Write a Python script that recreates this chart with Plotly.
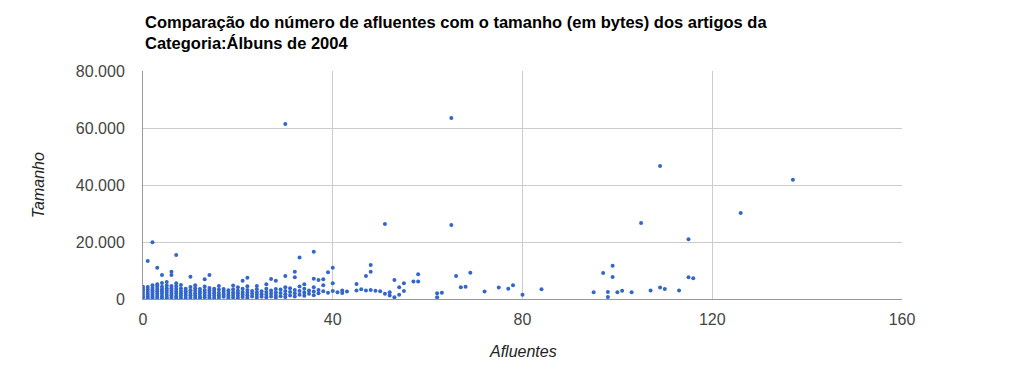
import plotly.graph_objects as go

# (afluentes, tamanho), grouped by afluentes value
afluentes_0_10 = [0]*6 + [1]*7 + [2]*8 + [3]*8 + [4]*8 + [5]*8 + [6]*8 + [7]*8 + [8]*6 + [9]*5 + [10]*6
tamanho_0_10 = [
    500, 1200, 2100, 2900, 3600, 4300,
    300, 900, 1700, 2500, 3300, 4200, 13300,
    200, 800, 1500, 2300, 3100, 3900, 4800, 19900,
    400, 1100, 1900, 2700, 3500, 4400, 5200, 11000,
    300, 1000, 1800, 2600, 3400, 4300, 5600, 8400,
    200, 700, 1400, 2200, 3000, 3800, 4700, 6000,
    500, 1300, 2100, 2900, 3700, 4600, 8400, 9600,
    300, 1000, 1800, 2600, 3500, 4500, 5500, 15400,
    400, 1200, 2000, 2800, 3700, 4900,
    300, 1100, 1900, 2700, 3600,
    500, 1300, 2200, 3100, 4200, 7800,
]

afluentes_11_20 = [11]*6 + [12]*5 + [13]*6 + [14]*6 + [15]*5 + [16]*5 + [17]*4 + [18]*4 + [19]*5 + [20]*5
tamanho_11_20 = [
    400, 1200, 2000, 2900, 3800, 4800,
    300, 1000, 1800, 2600, 3500,
    600, 1400, 2300, 3200, 4400, 6900,
    400, 1200, 2100, 3000, 3900, 8400,
    300, 1100, 2000, 2800, 3600,
    500, 1300, 2200, 3300, 4600,
    800, 1700, 2600, 3500,
    400, 1200, 2100, 3100,
    600, 1500, 2400, 3400, 4700,
    300, 1100, 2000, 2900, 4100,
]

afluentes_21_40 = ([21]*5 + [22]*6 + [23]*3 + [24]*5 + [25]*3 + [26]*5 + [27]*4 + [28]*5 + [29]*3
                   + [30]*6 + [31]*3 + [32]*5 + [33]*4 + [34]*4 + [35]*2 + [36]*5 + [37]*3 + [38]*3
                   + [39]*2 + [40]*3)
tamanho_21_40 = [
    700, 1600, 2500, 3600, 6400,
    400, 1300, 2200, 3200, 4500, 7500,
    900, 1800, 2800,
    500, 1400, 2300, 3400, 4600,
    800, 1700, 2700,
    600, 1500, 2500, 3600, 5200,
    900, 1900, 3000, 7000,
    500, 1400, 2400, 3500, 6400,
    1000, 2100, 3300,
    700, 1700, 2800, 4100, 8100, 61400,
    1200, 2500, 3800,
    900, 2000, 3200, 7600, 9600,
    1500, 2800, 4400, 14600,
    1100, 2300, 3600, 5200,
    1800, 3000,
    1300, 2600, 4100, 7100, 16600,
    2000, 3200, 6700,
    2700, 4800, 6900,
    2200, 9400,
    2800, 5500, 11000,
]

afluentes_41_plus = [41, 42, 42, 43, 45, 45, 46, 47, 47, 48, 48, 48, 49, 50, 51, 51, 52, 52,
                     53, 53, 54, 54, 55, 55, 57, 58, 58, 62, 62, 63, 65, 65, 66, 67, 68, 69,
                     72, 75, 77, 78, 80, 84, 95, 97, 98, 98, 99, 99, 100, 101, 103, 105, 107,
                     109, 109, 110, 113, 115, 115, 116, 126, 137]
tamanho_41_plus = [2400, 2100, 3000, 2600, 3000, 5300, 3400, 3000, 8100, 3200, 9600, 11900,
                   2900, 2700, 1800, 26300, 1200, 2400, 600, 6700, 4100, 1500, 5500, 2800,
                   6100, 6100, 8700, 600, 2000, 2200, 26000, 63500, 8100, 4100, 4300, 9200,
                   2600, 4000, 3600, 4800, 1500, 3400, 2400, 9100, 2500, 700, 11700, 7700,
                   2400, 2900, 2400, 26700, 3000, 4000, 46700, 3500, 3000, 21000, 7600, 7300,
                   30200, 41800]

afluentes = afluentes_0_10 + afluentes_11_20 + afluentes_21_40 + afluentes_41_plus
tamanho = tamanho_0_10 + tamanho_11_20 + tamanho_21_40 + tamanho_41_plus

x_ticks = [0, 40, 80, 120, 160]
y_ticks = [0, 20000, 40000, 60000, 80000]

title_text = ("Comparação do número de afluentes com o tamanho (em bytes) dos artigos da<br>"
              "Categoria:Álbuns de 2004")

fig = go.Figure()
fig.add_trace(go.Scatter(
    x=afluentes, y=tamanho, mode="markers",
    marker=dict(color="#3366cc", size=4, line=dict(width=0)),
    hoverinfo="x+y",
))

FONT = "Liberation Sans, Arial, sans-serif"

fig.update_layout(
    width=1024, height=369,
    margin=dict(l=143, r=122, t=71, b=70),
    paper_bgcolor="white", plot_bgcolor="white",
    separators=",.",
    showlegend=False,
    font=dict(family=FONT, size=16, color="#444444"),
    annotations=[
        dict(text=title_text, xref="paper", yref="paper", x=0, y=1.262,
             xanchor="left", yanchor="top", showarrow=False, align="left",
             font=dict(family=FONT, size=16.5, color="#000000", weight="bold")),
        dict(text="<i>Afluentes</i>", xref="paper", yref="paper", x=0.5, y=-0.23,
             xanchor="center", yanchor="middle", showarrow=False,
             font=dict(family=FONT, size=16, color="#222222")),
        dict(text="<i>Tamanho</i>", xref="paper", yref="paper", x=-0.138, y=0.5,
             xanchor="center", yanchor="middle", showarrow=False, textangle=-90,
             font=dict(family=FONT, size=16, color="#222222")),
    ],
)

fig.update_xaxes(
    range=[0, 160], tickvals=x_ticks, ticktext=[str(v) for v in x_ticks],
    showgrid=True, gridcolor="#cccccc", gridwidth=1,
    zeroline=False, showline=True, linecolor="#999999", linewidth=1,
    ticks="", ticklabelstandoff=6, mirror=False,
    tickfont=dict(family=FONT, size=16, color="#444444"),
)
fig.update_yaxes(
    range=[0, 80000], tickvals=y_ticks, tickformat=",d",
    showgrid=True, gridcolor="#cccccc", gridwidth=1,
    zeroline=True, zerolinecolor="#333333", zerolinewidth=1.5,
    showline=True, linecolor="#999999", linewidth=1,
    ticks="", ticklabelstandoff=14,
    tickfont=dict(family=FONT, size=16, color="#444444"),
)

fig.write_html("out.html")
